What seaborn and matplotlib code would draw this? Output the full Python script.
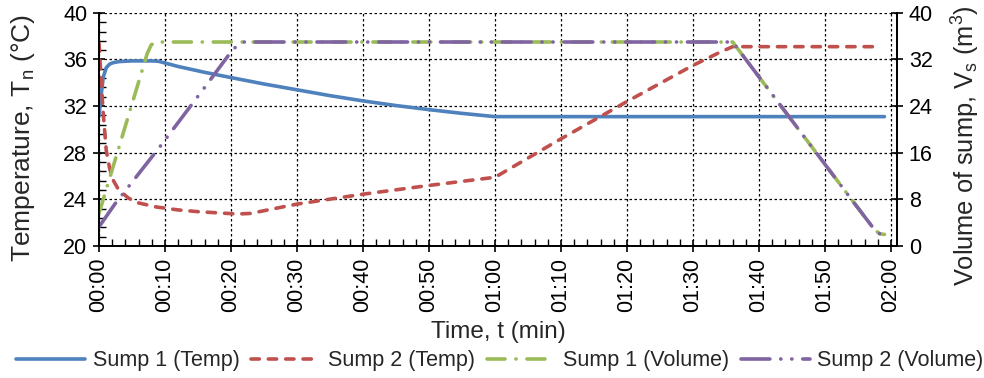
import numpy as np
import pandas as pd
import matplotlib
matplotlib.use("Agg")
import matplotlib.pyplot as plt
from matplotlib.ticker import MultipleLocator, FixedLocator
import seaborn as sns

# ---------------- data (time in minutes) ----------------
t_s1_temp = [0, 0.3, 0.65, 1.1, 1.6, 2.1, 3.0, 5.0, 8.0, 9.0, 12, 16, 20, 25, 30, 35, 40, 45, 50, 55, 60, 70, 80, 90, 100, 110, 119]
v_s1_temp = [31.1, 32.8, 34.5, 35.3, 35.6, 35.72, 35.82, 35.88, 35.88, 35.85, 35.4, 34.9, 34.45, 33.9, 33.4, 32.9, 32.45, 32.05, 31.7, 31.38, 31.1, 31.1, 31.1, 31.1, 31.1, 31.1, 31.1]

t_s2_temp = [0, 0.3, 0.6, 1.1, 1.6, 2.1, 3.0, 4.5, 6.0, 8.7, 12, 15, 18, 21, 23, 26, 30, 40, 50, 60, 70, 80, 90, 94, 96, 100, 110, 118.5]
v_s2_temp = [37.4, 34.5, 31.7, 28.2, 26.7, 25.7, 24.8, 24.1, 23.7, 23.35, 23.1, 22.95, 22.85, 22.75, 22.8, 23.15, 23.6, 24.45, 25.2, 25.9, 29.2, 32.4, 35.5, 36.6, 37.1, 37.1, 37.1, 37.1]

t_s1_vol = [0, 7.3, 7.9, 8.6, 96.0, 100, 110, 114, 117.5, 118.3, 119]
v_s1_vol = [5.6, 33.0, 34.5, 35.0, 35.0, 29.0, 14.0, 8.0, 2.8, 2.1, 2.0]

t_s2_vol = [0, 2.4, 9.2, 16, 20, 21, 22, 96.0, 100, 110, 114, 117.5, 118.3, 119]
v_s2_vol = [3.3, 7.2, 17.0, 27.2, 33.3, 34.5, 35.0, 35.0, 29.0, 14.0, 8.0, 2.8, 2.1, 2.0]

x_ticks = [0, 10, 20, 30, 40, 50, 60, 70, 80, 90, 100, 110, 120]
x_tick_labels = ["00:00", "00:10", "00:20", "00:30", "00:40", "00:50", "01:00",
                 "01:10", "01:20", "01:30", "01:40", "01:50", "02:00"]
left_ticks = [20, 24, 28, 32, 36, 40]
right_ticks = [0, 8, 16, 24, 32, 40]

labels = ["Sump 1 (Temp)", "Sump 2 (Temp)", "Sump 1 (Volume)", "Sump 2 (Volume)"]
colors = ["#4F81BD", "#C0504D", "#9BBB59", "#8064A2"]

# ---------------- style ----------------
sns.set_style("ticks")
plt.rcParams["font.family"] = ["Liberation Sans", "DejaVu Sans"]
plt.rcParams["mathtext.fontset"] = "custom"
plt.rcParams["mathtext.rm"] = "Liberation Sans"

fig, ax = plt.subplots(figsize=(9.84, 3.78), dpi=100)
fig.subplots_adjust(left=0.1006, right=0.9116, bottom=0.349, top=0.966)
ax2 = ax.twinx()

lw = 2.6
df1 = pd.DataFrame({"t": t_s1_temp, "v": v_s1_temp})
df2 = pd.DataFrame({"t": t_s2_temp, "v": v_s2_temp})
df3 = pd.DataFrame({"t": t_s1_vol, "v": v_s1_vol})
df4 = pd.DataFrame({"t": t_s2_vol, "v": v_s2_vol})

sns.lineplot(data=df1, x="t", y="v", ax=ax, color=colors[0], lw=lw, sort=False, estimator=None, label=labels[0])
l1 = ax.lines[-1]
sns.lineplot(data=df2, x="t", y="v", ax=ax, color=colors[1], lw=lw, sort=False, estimator=None, label=labels[1])
l2 = ax.lines[-1]
l2.set_dashes((2.3, 2.5))
l2.set_dash_capstyle("round")

sns.lineplot(data=df3, x="t", y="v", ax=ax2, color=colors[2], lw=lw, sort=False, estimator=None, label=labels[2])
l3 = ax2.lines[-1]
l3.set_dashes((5, 3, 0.05, 3))
l3.set_dash_capstyle("round")
sns.lineplot(data=df4, x="t", y="v", ax=ax2, color=colors[3], lw=lw, sort=False, estimator=None, label=labels[3])
l4 = ax2.lines[-1]
l4.set_dashes((8, 3, 0.05, 3, 0.05, 3))
l4.set_dash_capstyle("round")

for a in (ax, ax2):
    lg = a.get_legend()
    if lg is not None:
        lg.remove()

# axes limits / ticks
ax.set_xlim(0, 120.9)
ax.set_ylim(20, 40)
ax2.set_ylim(0, 40)
ax.xaxis.set_major_locator(FixedLocator(x_ticks))
ax.set_xticklabels(x_tick_labels, rotation=90)
ax.xaxis.set_minor_locator(MultipleLocator(2))
ax.yaxis.set_major_locator(FixedLocator(left_ticks))
ax.yaxis.set_minor_locator(MultipleLocator(0.8))
ax2.yaxis.set_major_locator(FixedLocator(right_ticks))

fs = 15.5
ax.tick_params(axis="both", which="major", direction="inout", length=9, width=1.2,
               labelsize=fs, pad=4, color="black", labelcolor="black")
ax.tick_params(axis="both", which="minor", direction="in", length=5, width=1.0, color="black")
ax2.tick_params(axis="y", which="major", direction="inout", length=9, width=1.2,
                labelsize=fs, pad=4, color="black", labelcolor="black")

ax.grid(True, which="major", axis="both", color="black", linestyle=(0, (2, 2)), linewidth=0.9)
ax.set_axisbelow(True)

for a in (ax, ax2):
    a.spines["top"].set_visible(False)
    for s in ("left", "right", "bottom"):
        a.spines[s].set_color("black")
        a.spines[s].set_linewidth(1.3)

ax.set_xlabel("Time, t (min)", fontsize=17.5, labelpad=6)
ax.set_ylabel("Temperature, T$_\\mathregular{n}$ (°C)", fontsize=19)
ax2.set_ylabel("Volume of sump, V$_\\mathregular{s}$ (m$^\\mathregular{3}$)", fontsize=18.3)
ax.yaxis.set_label_coords(-0.078, 0.463)
ax2.yaxis.set_label_coords(1.0664, 0.43)

handles = [l1, l2, l3, l4]
fig.legend(handles, labels, loc="center", bbox_to_anchor=(0.508, 0.045), ncol=4,
           frameon=False, fontsize=15.5, handlelength=3.2, handletextpad=0.35,
           columnspacing=0.55, borderaxespad=0, borderpad=0)

fig.savefig("out.png", dpi=100)
